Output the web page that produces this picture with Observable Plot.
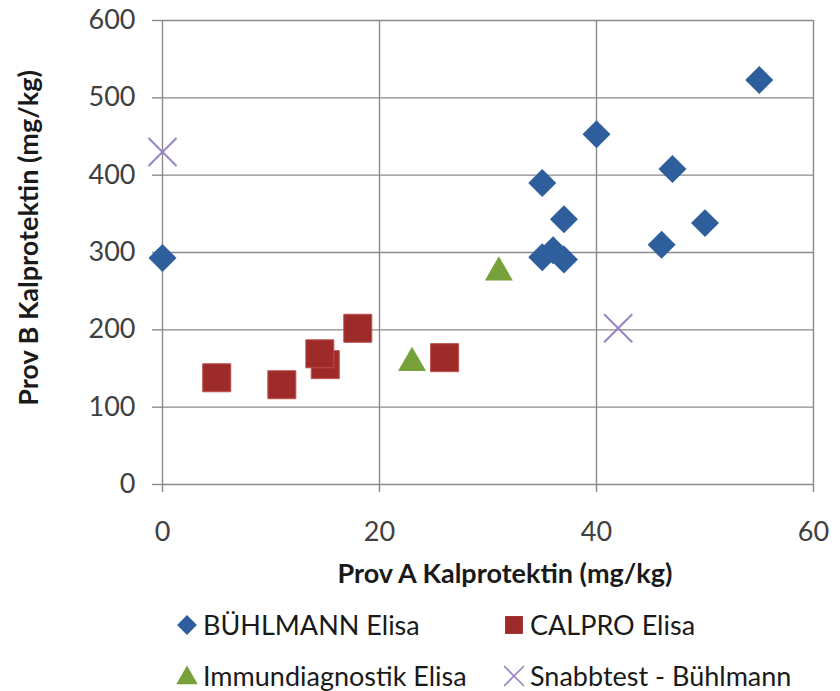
<!DOCTYPE html>
<html><head><meta charset="utf-8">
<script src="https://cdn.jsdelivr.net/npm/d3@7"></script>
<script src="https://cdn.jsdelivr.net/npm/@observablehq/plot@0.6"></script>
<style>
body{margin:0;background:#fff;font-family:Lato,sans-serif;}
#wrap{position:relative;width:840px;height:691px;overflow:hidden;}
.leg{position:absolute;display:flex;align-items:center;font-size:27px;line-height:28px;color:#1a1a1a;white-space:nowrap;height:28px;}
.leg svg{margin-right:5px;}
</style></head>
<body><div id="wrap"></div>
<script>
// ---- data ----
const seriesNames = ["BÜHLMANN Elisa", "CALPRO Elisa", "Immundiagnostik Elisa", "Snabbtest - Bühlmann"];
const buhlmannA = [0, 35, 36, 37, 35, 37, 40, 46, 47, 50, 55];
const buhlmannB = [293, 294, 303, 291, 390, 343, 453, 310, 408, 338, 523];
const calproA = [5, 11, 15, 14.5, 18, 26];
const calproB = [138, 129, 155, 169, 202, 164];
const immunoA = [23, 31];
const immunoB = [163, 280];
const snabbA = [0, 42];
const snabbB = [430, 202];
const xTicks = [0, 20, 40, 60];
const yTicks = [0, 100, 200, 300, 400, 500, 600];
const xTitle = "Prov A Kalprotektin (mg/kg)";
const yTitle = "Prov B Kalprotektin (mg/kg)";

const colors = ["#2e5f9c", "#9d2b29", "#77a13a", "#9a83c2"];
const toRows = (xs, ys) => xs.map((x, i) => ({x, y: ys[i]}));
const buh = toRows(buhlmannA, buhlmannB);
const cal = toRows(calproA, calproB);
const imm = toRows(immunoA, immunoB);
const snb = toRows(snabbA, snabbB);

const grid = "#8a8a8a";
const chart = Plot.plot({
  width: 840, height: 600,
  marginLeft: 162, marginRight: 27, marginTop: 20, marginBottom: 116,
  style: {fontFamily: "Lato, sans-serif", fontSize: "27px", background: "white", overflow: "visible"},
  x: {domain: [0, 60]},
  y: {domain: [0, 600]},
  marks: [
    Plot.gridX(xTicks, {stroke: grid, strokeOpacity: 1, strokeWidth: 1.4}),
    Plot.gridY(yTicks, {stroke: grid, strokeOpacity: 1, strokeWidth: 1.4}),
    Plot.axisX(xTicks, {tickSize: 8, tickPadding: 29, stroke: grid, strokeWidth: 1.4, fill: "#404040", fontSize: 27, label: null, tickFormat: d => String(d)}),
    Plot.axisY(yTicks, {tickSize: 10, tickPadding: 17, stroke: grid, strokeWidth: 1.4, fill: "#404040", fontSize: 27, label: null, tickFormat: d => String(d)}),
    Plot.dot(buh, {x: "x", y: "y", symbol: "diamond2", r: 12.6, fill: colors[0], stroke: "none", ariaLabel: "shadowed"}),
    Plot.dot(cal, {x: "x", y: "y", symbol: "square", r: 15.8, fill: colors[1], stroke: "#c0504d", strokeWidth: 1, ariaLabel: "shadowed"}),
    Plot.dot(imm, {x: "x", y: "y", symbol: "triangle", r: 10.4, dy: 4.5, fill: colors[2], stroke: "none", ariaLabel: "shadowed"}),
    Plot.dot(snb, {x: "x", y: "y", symbol: "times", r: 12.8, stroke: colors[3], strokeWidth: 2, fill: "none", ariaLabel: "shadowed"})
  ]
});
const wrap = document.getElementById("wrap");
wrap.appendChild(chart);

const svg = d3.select(chart);
svg.selectAll('g[aria-label="shadowed"]').style("filter", "drop-shadow(2px 3px 2px rgba(0,0,0,0.35))");
svg.append("text").attr("x", 505).attr("y", 583).attr("text-anchor", "middle")
  .attr("font-weight", "bold").attr("font-size", 27).attr("fill", "#1a1a1a").text(xTitle);
svg.append("text").attr("transform", "translate(38,238) rotate(-90)").attr("text-anchor", "middle")
  .attr("font-weight", "bold").attr("font-size", 27).attr("fill", "#1a1a1a").text(yTitle);

// ---- legend ----
const legSymbols = [d3.symbolDiamond2, d3.symbolSquare, d3.symbolTriangle, d3.symbolTimes];
const legSizes = [250, 320, 200, 260];
const legPos = [[176, 611], [503, 611], [176, 662], [503, 662]];
seriesNames.forEach((name, i) => {
  const div = document.createElement("div");
  div.className = "leg";
  div.style.left = legPos[i][0] + "px";
  div.style.top = legPos[i][1] + "px";
  const s = d3.create("svg").attr("width", 22).attr("height", 22).attr("viewBox", "-11 -11 22 22");
  const p = s.append("path").attr("d", d3.symbol(legSymbols[i], legSizes[i])());
  if (i === 3) p.attr("fill", "none").attr("stroke", colors[i]).attr("stroke-width", 1.6);
  else p.attr("fill", colors[i]);
  if (i === 2) p.attr("transform", "translate(0,2)");
  div.appendChild(s.node());
  const t = document.createElement("span");
  t.textContent = name;
  div.appendChild(t);
  wrap.appendChild(div);
});
</script>
</body></html>
